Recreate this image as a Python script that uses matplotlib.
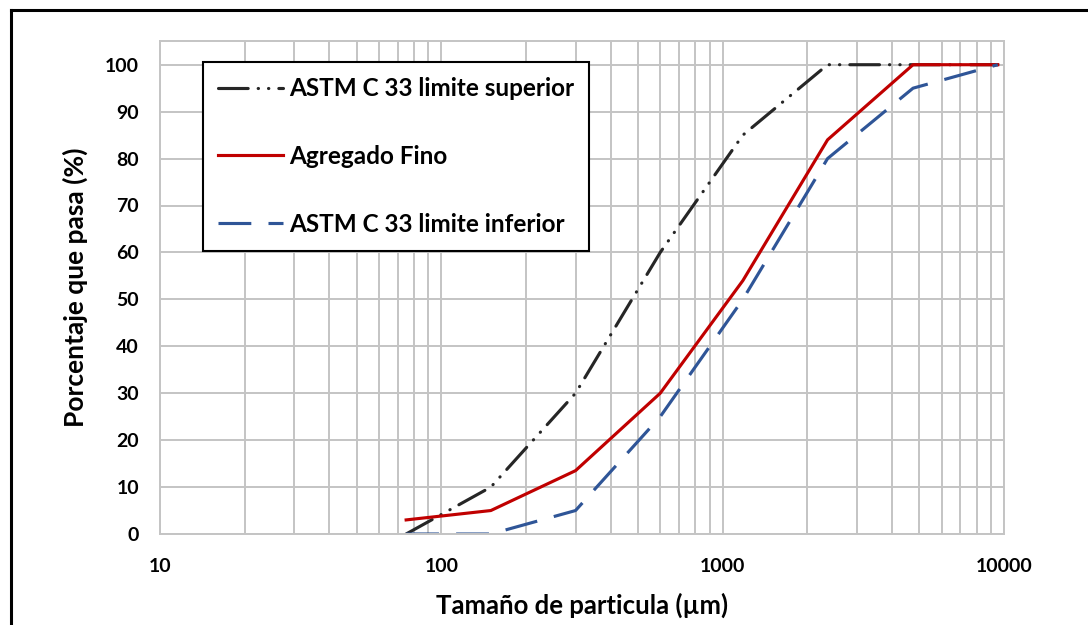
import matplotlib.pyplot as plt
from matplotlib.ticker import FixedLocator, LogLocator, NullFormatter

# Sieve openings (um) and percent passing
tamices = [75, 150, 300, 600, 1180, 2360, 4750, 9500]
limite_superior = [0, 10, 30, 60, 85, 100, 100, 100]
agregado_fino = [3, 5, 13.5, 30, 54, 84, 100, 100]
limite_inferior = [0, 0, 5, 25, 50, 80, 95, 100]

x_ticks = [10, 100, 1000, 10000]
y_ticks = list(range(0, 101, 10))

plt.rcParams['font.family'] = ['Lato', 'DejaVu Sans']
plt.rcParams['font.weight'] = 'bold'

fig = plt.figure(figsize=(10.88, 6.25), dpi=100)
ax = fig.add_axes([0.147, 0.1456, 0.7758, 0.7884])

ax.plot(tamices, limite_superior, color='#262626', lw=2.25,
        dashes=(9.5, 3.2, 0.1, 3.2, 0.1, 3.2), dash_capstyle='round',
        label='ASTM C 33 limite superior')
ax.plot(tamices, agregado_fino, color='#C00000', lw=2.25,
        label='Agregado Fino')
ax.plot(tamices, limite_inferior, color='#2F5597', lw=2.25,
        dashes=(10.5, 5.5), label='ASTM C 33 limite inferior')

ax.set_xscale('log')
ax.set_xlim(10, 10000)
ax.set_ylim(0, 105)
ax.xaxis.set_major_locator(FixedLocator(x_ticks))
ax.set_xticklabels([str(t) for t in x_ticks])
ax.xaxis.set_minor_locator(LogLocator(base=10, subs=range(2, 10)))
ax.xaxis.set_minor_formatter(NullFormatter())
ax.set_yticks(y_ticks)

ax.grid(True, which='both', axis='x', color='#C4C4C4', lw=1.4)
ax.grid(True, which='major', axis='y', color='#C4C4C4', lw=1.4)
ax.set_axisbelow(True)
for s in ax.spines.values():
    s.set_color('#C4C4C4')
    s.set_linewidth(1.4)

ax.tick_params(axis='both', which='both', length=0, labelsize=14,
               colors='black')
ax.tick_params(axis='x', pad=17)
ax.tick_params(axis='y', pad=15)

ax.set_xlabel('Tamaño de particula (µm)', fontsize=18.5, fontweight='bold',
              labelpad=13)
ax.set_ylabel('Porcentaje que pasa (%)', fontsize=19, fontweight='bold',
              labelpad=12)

leg = ax.legend(loc='upper left', bbox_to_anchor=(0.051, 0.957),
                fontsize=17.5, frameon=True, fancybox=False,
                handlelength=2.7, handletextpad=0.25, labelspacing=1.85,
                borderpad=0.6, borderaxespad=0)
leg.get_frame().set_edgecolor('black')
leg.get_frame().set_linewidth(1.5)
leg.get_frame().set_alpha(1)

# outer frame lines at top and left
fig.add_artist(plt.Line2D([0.0101, 1.0], [0.984, 0.984], color='black',
                          lw=2.2, transform=fig.transFigure))
fig.add_artist(plt.Line2D([0.0101, 0.0101], [0.0, 0.984], color='black',
                          lw=2.2, transform=fig.transFigure))

fig.savefig('out.png', dpi=100)
